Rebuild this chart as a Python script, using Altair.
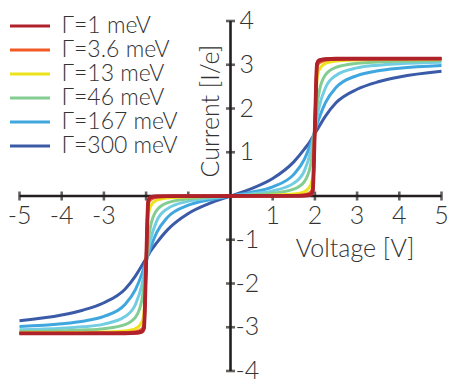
import altair as alt
import pandas as pd

# ---- data ----
voltage = [-5, -4, -3.5, -3, -2.5, -2.25, -2.1, -2.05, -2, -1.95, -1.9, -1.75, -1.5, -1, -0.5, 0,
           0.5, 1, 1.5, 1.75, 1.9, 1.95, 2, 2.05, 2.1, 2.25, 2.5, 3, 3.5, 4, 5]

current_300 = [-2.850, -2.720, -2.610, -2.440, -2.130, -1.825, -1.591, -1.507, -1.430, -1.350, -1.270, -1.070, -0.780, -0.400, -0.170, 0,
               0.170, 0.400, 0.780, 1.070, 1.270, 1.350, 1.430, 1.507, 1.591, 1.825, 2.130, 2.440, 2.610, 2.720, 2.850]
current_167 = [-2.983, -2.921, -2.862, -2.753, -2.479, -2.135, -1.780, -1.637, -1.488, -1.338, -1.195, -0.839, -0.494, -0.211, -0.086, 0,
               0.086, 0.211, 0.494, 0.839, 1.195, 1.338, 1.488, 1.637, 1.780, 2.135, 2.479, 2.753, 2.862, 2.921, 2.983]
current_90 = [-3.056, -3.022, -2.990, -2.928, -2.756, -2.475, -2.034, -1.797, -1.526, -1.254, -1.018, -0.576, -0.294, -0.118, -0.048, 0,
              0.048, 0.118, 0.294, 0.576, 1.018, 1.254, 1.526, 1.797, 2.034, 2.475, 2.756, 2.928, 2.990, 3.022, 3.056]
current_46 = [-3.098, -3.080, -3.064, -3.032, -2.939, -2.768, -2.376, -2.046, -1.548, -1.050, -0.720, -0.328, -0.156, -0.061, -0.025, 0,
              0.025, 0.061, 0.156, 0.328, 0.720, 1.050, 1.548, 2.046, 2.376, 2.768, 2.939, 3.032, 3.064, 3.080, 3.098]
current_13 = [-3.129, -3.124, -3.119, -3.110, -3.084, -3.032, -2.881, -2.656, -1.564, -0.473, -0.248, -0.097, -0.045, -0.017, -0.007, 0,
              0.007, 0.017, 0.045, 0.097, 0.248, 0.473, 1.564, 2.656, 2.881, 3.032, 3.084, 3.110, 3.119, 3.124, 3.129]
current_3_6 = [-3.138, -3.137, -3.135, -3.133, -3.126, -3.105, -3.040, -2.940, -1.569, -0.200, -0.090, -0.030, -0.012, -0.005, -0.002, 0,
               0.002, 0.005, 0.012, 0.030, 0.090, 0.200, 1.569, 2.940, 3.040, 3.105, 3.126, 3.133, 3.135, 3.137, 3.138]
current_1 = [-3.141, -3.140, -3.140, -3.139, -3.137, -3.130, -3.100, -3.020, -1.570, -0.120, -0.030, -0.008, -0.003, -0.001, -0.001, 0,
             0.001, 0.001, 0.003, 0.008, 0.030, 0.120, 1.570, 3.020, 3.100, 3.130, 3.137, 3.139, 3.140, 3.140, 3.141]

# drawing order: widest first, narrowest (red) on top
series_names = ["Γ=300 meV", "Γ=167 meV", "Γ=90 meV", "Γ=46 meV", "Γ=13 meV", "Γ=3.6 meV", "Γ=1 meV"]
series_values = [current_300, current_167, current_90, current_46, current_13, current_3_6, current_1]

color_domain = ["Γ=1 meV", "Γ=3.6 meV", "Γ=13 meV", "Γ=46 meV", "Γ=90 meV", "Γ=167 meV", "Γ=300 meV"]
color_range = ["#b0222a", "#f15a24", "#ece31c", "#84cd92", "#72cde2", "#3fa6de", "#3b5ba8"]
legend_entries = ["Γ=1 meV", "Γ=3.6 meV", "Γ=13 meV", "Γ=46 meV", "Γ=167 meV", "Γ=300 meV"]

x_ticks = [-5, -4, -3, -2, -1, 1, 2, 3, 4, 5]
x_tick_labels = [-5, -4, -3, 1, 2, 3, 4, 5]
y_ticks = [-4, -3, -2, -1, 1, 2, 3, 4]

rows = []
for k, (name, vals) in enumerate(zip(series_names, series_values)):
    for v, c in zip(voltage, vals):
        rows.append({"V": v, "I": c, "name": name, "k": k})
curves = pd.DataFrame(rows)
red_curve = curves[curves["name"] == "Γ=1 meV"]

FONT = "Lato"
INK = "#231f20"
TXT = "#333333"
FS = 25

xs = alt.Scale(domain=[min(x_ticks), max(x_ticks)], nice=False, zero=False)
ys = alt.Scale(domain=[min(y_ticks), max(y_ticks)], nice=False, zero=False)


def X(f):
    return alt.X(f, scale=xs, axis=None)


def Y(f):
    return alt.Y(f, scale=ys, axis=None)


# axes drawn through the origin
hline = pd.DataFrame([{"x": min(x_ticks), "x2": max(x_ticks), "y": 0}])
vline = pd.DataFrame([{"x": 0, "y": min(y_ticks), "y2": max(y_ticks)}])
rule_h = alt.Chart(hline).mark_rule(color=INK, strokeWidth=2.6).encode(
    x=X("x:Q"), x2="x2:Q", y=Y("y:Q"))
rule_v = alt.Chart(vline).mark_rule(color=INK, strokeWidth=2.6).encode(
    x=X("x:Q"), y=Y("y:Q"), y2="y2:Q")

xt = pd.DataFrame({"x": x_ticks, "y": [0] * len(x_ticks)})
yt = pd.DataFrame({"x": [0] * len(y_ticks), "y": y_ticks})
xtick_marks = alt.Chart(xt).mark_tick(orient="vertical", size=9, thickness=2.6, color=INK).encode(
    x=X("x:Q"), y=Y("y:Q"))
ytick_marks = alt.Chart(yt).mark_tick(orient="horizontal", size=9, thickness=2.6, color=INK).encode(
    x=X("x:Q"), y=Y("y:Q"))

xl = pd.DataFrame({"x": x_tick_labels, "y": [0] * len(x_tick_labels),
                   "t": [str(v) for v in x_tick_labels]})
xlabels = alt.Chart(xl).mark_text(font=FONT, fontSize=FS, fontWeight=300, color=TXT,
                                  baseline="top", dy=8, align="center").encode(
    x=X("x:Q"), y=Y("y:Q"), text="t:N")

pos_y = [v for v in y_ticks if v > 0]
neg_y = [v for v in y_ticks if v < 0]
ylp = pd.DataFrame({"x": [0] * len(pos_y), "y": pos_y, "t": [str(v) for v in pos_y]})
yln = pd.DataFrame({"x": [0] * len(neg_y), "y": neg_y, "t": [str(v) for v in neg_y]})
ylabels_pos = alt.Chart(ylp).mark_text(font=FONT, fontSize=FS, fontWeight=300, color=TXT,
                                       baseline="middle", align="left", dx=9).encode(
    x=X("x:Q"), y=Y("y:Q"), text="t:N")
ylabels_neg = alt.Chart(yln).mark_text(font=FONT, fontSize=FS, fontWeight=300, color=TXT,
                                       baseline="middle", align="left", dx=5).encode(
    x=X("x:Q"), y=Y("y:Q"), text="t:N")

xtitles = pd.DataFrame([{"x": 2.95, "y": -1.2, "t": "Voltage [V]"}])
xtitle = alt.Chart(xtitles).mark_text(font=FONT, fontSize=FS, fontWeight=300, color=TXT,
                                      baseline="middle", align="center").encode(
    x=X("x:Q"), y=Y("y:Q"), text="t:N")
ytitles = pd.DataFrame([{"x": -0.47, "y": 1.94, "t": "Current [I/e]"}])
ytitle = alt.Chart(ytitles).mark_text(font=FONT, fontSize=FS, fontWeight=300, color=TXT,
                                      baseline="middle", align="center", angle=270).encode(
    x=X("x:Q"), y=Y("y:Q"), text="t:N")

lines = alt.Chart(curves).mark_line(interpolate="monotone", strokeWidth=3, strokeJoin="round").encode(
    x=X("V:Q"),
    y=Y("I:Q"),
    detail="k:O",
    color=alt.Color("name:N", sort=color_domain,
                    scale=alt.Scale(domain=color_domain, range=color_range),
                    legend=alt.Legend(values=legend_entries, orient="none", legendX=-1, legendY=-6.5,
                                      title=None, symbolType="M-4,0H4", symbolSize=100,
                                      symbolStrokeWidth=3.2, labelFont=FONT, labelFontSize=23,
                                      labelFontWeight=300, labelColor=TXT, rowPadding=0,
                                      labelOffset=20, padding=0, labelLimit=300)),
)
red_line = alt.Chart(red_curve).mark_line(interpolate="monotone", strokeWidth=3.8, strokeJoin="round",
                                          color=color_range[0]).encode(
    x=X("V:Q"),
    y=Y("I:Q"),
)

chart = alt.layer(rule_h, rule_v, xtick_marks, ytick_marks, lines, red_line, xlabels,
                  ylabels_pos, ylabels_neg, xtitle, ytitle).properties(
    width=422, height=350,
    autosize=alt.AutoSizeParams(type="none"),
    padding={"left": 11.5, "top": 13, "right": 7.5, "bottom": 13},
).configure_view(stroke=None)

chart.save("out.html", embed_options={"renderer": "svg", "actions": False})
